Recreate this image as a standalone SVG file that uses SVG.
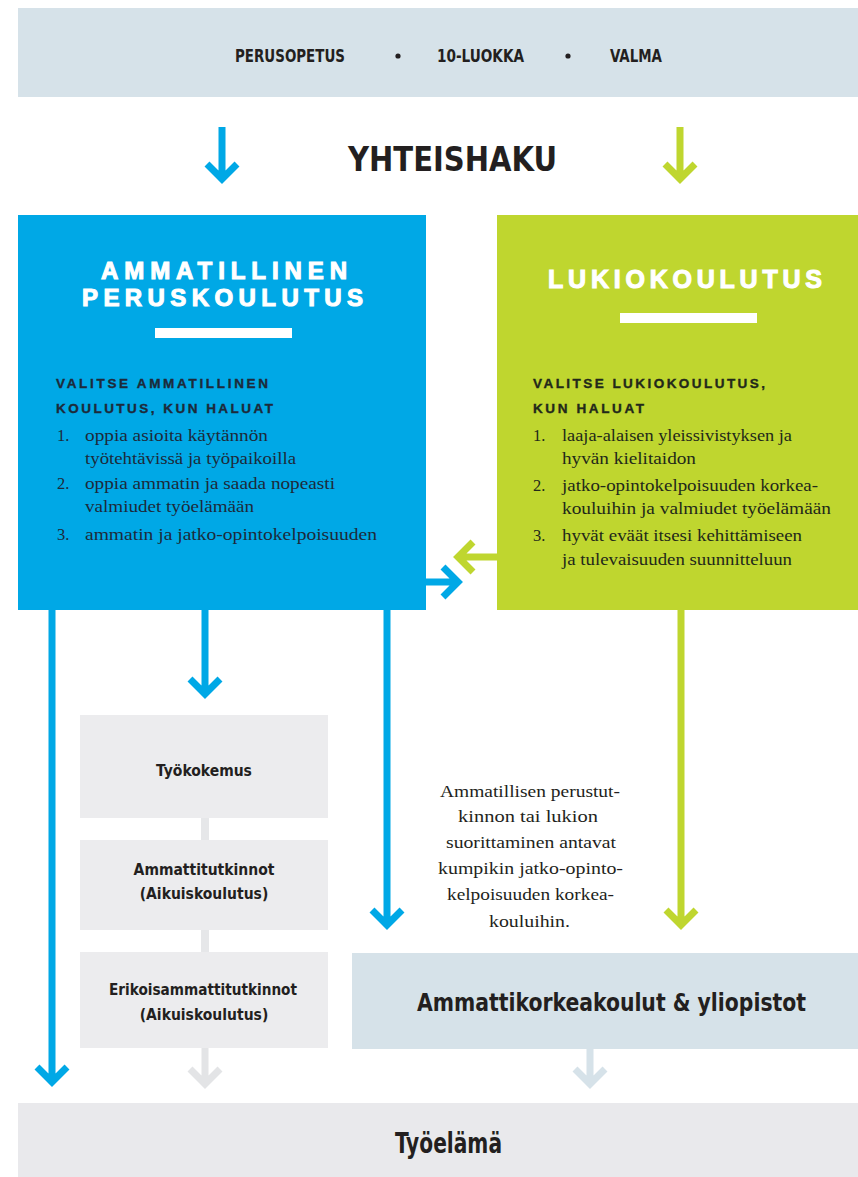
<svg xmlns="http://www.w3.org/2000/svg" width="858" height="1177" viewBox="0 0 858 1177">
<style>
.cond{font-family:"Liberation Sans Narrow","DejaVu Sans Condensed","Liberation Sans",sans-serif;font-weight:bold;fill:#231f20}
.head{font-family:"Liberation Sans","DejaVu Sans",sans-serif;font-weight:900;fill:#ffffff;stroke:#ffffff;stroke-width:1.1}
.sub{font-family:"Liberation Sans","DejaVu Sans",sans-serif;font-weight:bold;font-size:13.5px;fill:#1d2a3a;stroke:#1d2a3a;stroke-width:0.35}
.ser{font-family:"Liberation Serif","DejaVu Serif",serif;font-size:16.5px;fill:#1d2a3a}
.gser{font-family:"Liberation Serif","DejaVu Serif",serif;font-size:16.5px;fill:#22281a}
.note{font-family:"Liberation Serif","DejaVu Serif",serif;font-size:17px;fill:#231f20}
.arr{fill:none;stroke-width:7;stroke-linejoin:miter;stroke-miterlimit:10}
.blue{stroke:#00a8e6}
.green{stroke:#bfd62f}
</style>
<rect width="858" height="1177" fill="#ffffff"/>

<g id="top-bar">
<rect x="18" y="8" width="840" height="89" fill="#d6e2e9"/>
<text class="cond" x="235" y="62" font-size="17" textLength="110" lengthAdjust="spacingAndGlyphs">PERUSOPETUS</text>
<circle cx="398" cy="56" r="2.6" fill="#231f20"/>
<text class="cond" x="437" y="62" font-size="17" textLength="87" lengthAdjust="spacingAndGlyphs">10-LUOKKA</text>
<circle cx="568" cy="56" r="2.6" fill="#231f20"/>
<text class="cond" x="610" y="62" font-size="17" textLength="52" lengthAdjust="spacingAndGlyphs">VALMA</text>
</g>

<g id="yhteishaku">
<text class="cond" x="348" y="171" font-size="34" textLength="209" lengthAdjust="spacingAndGlyphs">YHTEISHAKU</text>
</g>

<g id="ammatillinen">
<rect x="18" y="215" width="408" height="395" fill="#00a8e6"/>
<text class="head" x="101" y="279" font-size="24" textLength="246" lengthAdjust="spacing">AMMATILLINEN</text>
<text class="head" x="82" y="306" font-size="24" textLength="281" lengthAdjust="spacing">PERUSKOULUTUS</text>
<rect x="155" y="328" width="137" height="10" fill="#ffffff"/>
<text class="sub" x="56" y="388" textLength="212" lengthAdjust="spacing">VALITSE AMMATILLINEN</text>
<text class="sub" x="56" y="413" textLength="217" lengthAdjust="spacing">KOULUTUS, KUN HALUAT</text>
<text class="ser" x="57" y="441">1.</text>
<text class="ser" x="85" y="441" textLength="183" lengthAdjust="spacingAndGlyphs">oppia asioita käytännön</text>
<text class="ser" x="85" y="464" textLength="211" lengthAdjust="spacingAndGlyphs">työtehtävissä ja työpaikoilla</text>
<text class="ser" x="57" y="489">2.</text>
<text class="ser" x="85" y="489" textLength="250" lengthAdjust="spacingAndGlyphs">oppia ammatin ja saada nopeasti</text>
<text class="ser" x="85" y="512" textLength="169" lengthAdjust="spacingAndGlyphs">valmiudet työelämään</text>
<text class="ser" x="57" y="540">3.</text>
<text class="ser" x="85" y="540" textLength="292" lengthAdjust="spacingAndGlyphs">ammatin ja jatko-opintokelpoisuuden</text>
</g>

<g id="lukiokoulutus">
<rect x="497" y="215" width="361" height="395" fill="#bfd62f"/>
<text class="head" x="548" y="288" font-size="25" textLength="274" lengthAdjust="spacing">LUKIOKOULUTUS</text>
<rect x="620" y="313" width="137" height="10" fill="#ffffff"/>
<text class="sub" x="533" y="388" textLength="232" lengthAdjust="spacing" style="fill:#22281a;stroke:#22281a">VALITSE LUKIOKOULUTUS,</text>
<text class="sub" x="533" y="413" textLength="111" lengthAdjust="spacing" style="fill:#22281a;stroke:#22281a">KUN HALUAT</text>
<text class="gser" x="533" y="441">1.</text>
<text class="gser" x="562" y="441" textLength="230" lengthAdjust="spacingAndGlyphs">laaja-alaisen yleissivistyksen ja</text>
<text class="gser" x="562" y="464" textLength="134" lengthAdjust="spacingAndGlyphs">hyvän kielitaidon</text>
<text class="gser" x="533" y="491">2.</text>
<text class="gser" x="562" y="491" textLength="256" lengthAdjust="spacingAndGlyphs">jatko-opintokelpoisuuden korkea-</text>
<text class="gser" x="562" y="514" textLength="269" lengthAdjust="spacingAndGlyphs">kouluihin ja valmiudet työelämään</text>
<text class="gser" x="533" y="541">3.</text>
<text class="gser" x="562" y="541" textLength="240" lengthAdjust="spacingAndGlyphs">hyvät eväät itsesi kehittämiseen</text>
<text class="gser" x="562" y="565" textLength="230" lengthAdjust="spacingAndGlyphs">ja tulevaisuuden suunnitteluun</text>
</g>

<g id="tyokokemus">
<rect x="80" y="715" width="248" height="103" fill="#ececee"/>
<text class="cond" x="204" y="776" font-size="15.5" text-anchor="middle">Työkokemus</text>
</g>
<g id="ammattitutkinnot">
<rect x="80" y="840" width="248" height="90" fill="#ececee"/>
<text class="cond" x="204" y="875" font-size="15.5" text-anchor="middle">Ammattitutkinnot</text>
<text class="cond" x="204" y="899" font-size="15.5" text-anchor="middle">(Aikuiskoulutus)</text>
</g>
<g id="erikoisammattitutkinnot">
<rect x="80" y="952" width="248" height="96" fill="#ececee"/>
<text class="cond" x="109" y="995" font-size="15.5" textLength="188" lengthAdjust="spacingAndGlyphs">Erikoisammattitutkinnot</text>
<text class="cond" x="204" y="1020" font-size="15.5" text-anchor="middle">(Aikuiskoulutus)</text>
</g>

<g id="korkeakoulut">
<rect x="352" y="953" width="506" height="96" fill="#d6e2e9"/>
<text class="cond" x="417" y="1011" font-size="25" textLength="389" lengthAdjust="spacingAndGlyphs">Ammattikorkeakoulut &amp; yliopistot</text>
</g>

<g id="tyoelama">
<rect x="18" y="1103" width="840" height="74" fill="#e9e9ec"/>
<text class="cond" x="395" y="1153" font-size="28" textLength="107" lengthAdjust="spacingAndGlyphs">Työelämä</text>
</g>

<g id="note">
<text class="note" x="440" y="797" textLength="180" lengthAdjust="spacingAndGlyphs">Ammatillisen perustut-</text>
<text class="note" x="458" y="822" textLength="140" lengthAdjust="spacingAndGlyphs">kinnon tai lukion</text>
<text class="note" x="446" y="848" textLength="170" lengthAdjust="spacingAndGlyphs">suorittaminen antavat</text>
<text class="note" x="438" y="874" textLength="185" lengthAdjust="spacingAndGlyphs">kumpikin jatko-opinto-</text>
<text class="note" x="447" y="900" textLength="167" lengthAdjust="spacingAndGlyphs">kelpoisuuden korkea-</text>
<text class="note" x="489" y="927" textLength="81" lengthAdjust="spacingAndGlyphs">kouluihin.</text>
</g>

<g id="connectors">
<path class="arr blue" d="M222 127 V179 M207 164 L222 179 L237 164"/>
<path class="arr green" d="M680 127 V179 M665 164 L680 179 L695 164"/>
<path class="arr blue" d="M425 582 H458 M443 567 L458 582 L443 597"/>
<path class="arr green" d="M497 557 H458 M473 542 L458 557 L473 572"/>
<path class="arr blue" d="M52 610 V1082 M37 1067 L52 1082 L67 1067"/>
<path class="arr blue" d="M205 610 V694 M190 679 L205 694 L220 679"/>
<path class="arr blue" d="M387 610 V925 M372 910 L387 925 L402 910"/>
<path class="arr green" d="M681 610 V925 M666 910 L681 925 L696 910"/>
<rect x="201" y="818" width="8" height="22" fill="#e6e7e9"/>
<rect x="201" y="930" width="8" height="22" fill="#e6e7e9"/>
<path class="arr" stroke="#e3e4e6" d="M205 1048 V1084 M190 1069 L205 1084 L220 1069"/>
<path class="arr" stroke="#d6e2e9" d="M590 1049 V1084 M575 1069 L590 1084 L605 1069"/>
</g>
</svg>
